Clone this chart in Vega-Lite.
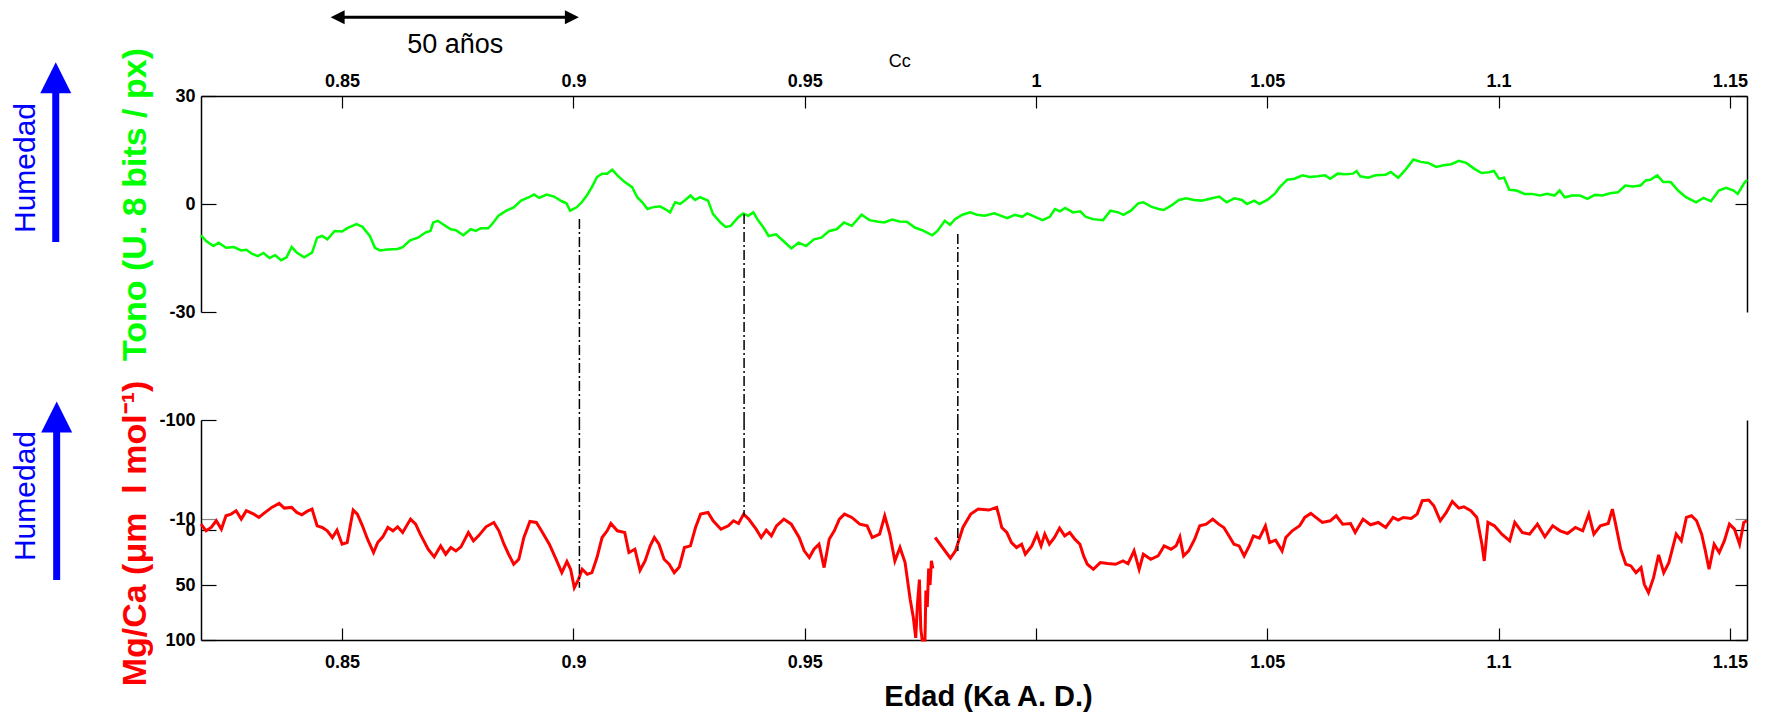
{
"$schema": "https://vega.github.io/schema/vega-lite/v6.json",
"background": "white",
"padding": {"left": 10, "top": 10, "right": 19, "bottom": 5},
"bounds": "flush",
"spacing": 108,
"config": {
  "view": {"stroke": null},
  "font": "Liberation Sans",
  "axis": {"grid": false, "labelFont": "Liberation Sans", "labelFontWeight": "bold", "labelFontSize": 18, "labelColor": "black", "domainColor": "black", "domainWidth": 1.5, "tickColor": "black", "tickWidth": 1.2, "titleFont": "Liberation Sans"}
},
"vconcat": [
{
  "width": 1546, "height": 216,
  "resolve": {"axis": {"x": "independent", "y": "independent"}},
  "layer": [
    {
      "data": {"values": [
{"edad":0.8195,"tono":-8.69},{"edad":0.8206,"tono":-10.28},{"edad":0.8222,"tono":-11.68},{"edad":0.8233,"tono":-10.75},{"edad":0.8249,"tono":-12.15},{"edad":0.8266,"tono":-11.96},{"edad":0.8282,"tono":-12.9},{"edad":0.8293,"tono":-12.71},{"edad":0.8305,"tono":-13.8},{"edad":0.8318,"tono":-14.5},{"edad":0.833,"tono":-13.6},{"edad":0.8343,"tono":-15.0},{"edad":0.8355,"tono":-14.2},{"edad":0.8368,"tono":-15.6},{"edad":0.838,"tono":-14.8},{"edad":0.8391,"tono":-11.96},{"edad":0.8402,"tono":-13.5},{"edad":0.8418,"tono":-14.8},{"edad":0.8435,"tono":-13.5},{"edad":0.8446,"tono":-9.35},{"edad":0.8457,"tono":-8.88},{"edad":0.8468,"tono":-9.81},{"edad":0.8484,"tono":-7.48},{"edad":0.85,"tono":-7.66},{"edad":0.8511,"tono":-6.73},{"edad":0.8531,"tono":-5.61},{"edad":0.8544,"tono":-6.35},{"edad":0.856,"tono":-8.88},{"edad":0.8571,"tono":-12.15},{"edad":0.8582,"tono":-12.9},{"edad":0.8598,"tono":-12.62},{"edad":0.862,"tono":-12.5},{"edad":0.8631,"tono":-11.96},{"edad":0.8647,"tono":-10.09},{"edad":0.8664,"tono":-9.35},{"edad":0.868,"tono":-7.94},{"edad":0.8691,"tono":-7.48},{"edad":0.8697,"tono":-5.14},{"edad":0.8707,"tono":-4.67},{"edad":0.8718,"tono":-5.61},{"edad":0.8735,"tono":-7.01},{"edad":0.8746,"tono":-7.29},{"edad":0.8762,"tono":-8.69},{"edad":0.8778,"tono":-7.01},{"edad":0.8789,"tono":-7.48},{"edad":0.88,"tono":-6.73},{"edad":0.8816,"tono":-6.73},{"edad":0.8827,"tono":-5.14},{"edad":0.8838,"tono":-3.27},{"edad":0.8855,"tono":-1.86},{"edad":0.8871,"tono":-0.93},{"edad":0.8887,"tono":0.94},{"edad":0.8904,"tono":1.88},{"edad":0.8915,"tono":2.63},{"edad":0.8926,"tono":1.69},{"edad":0.8942,"tono":2.63},{"edad":0.8958,"tono":2.07},{"edad":0.8975,"tono":0.76},{"edad":0.8985,"tono":0.19},{"edad":0.8993,"tono":-1.86},{"edad":0.9007,"tono":-0.93},{"edad":0.9018,"tono":0.48},{"edad":0.9029,"tono":2.35},{"edad":0.904,"tono":4.68},{"edad":0.9051,"tono":7.49},{"edad":0.9062,"tono":8.43},{"edad":0.9073,"tono":8.43},{"edad":0.9084,"tono":9.55},{"edad":0.9095,"tono":7.96},{"edad":0.9111,"tono":6.09},{"edad":0.9127,"tono":4.68},{"edad":0.9138,"tono":1.88},{"edad":0.9149,"tono":0.48},{"edad":0.916,"tono":-1.4},{"edad":0.9171,"tono":-0.93},{"edad":0.9187,"tono":-0.65},{"edad":0.9198,"tono":-1.4},{"edad":0.9209,"tono":-2.33},{"edad":0.922,"tono":0.48},{"edad":0.9231,"tono":0.01},{"edad":0.9242,"tono":1.13},{"edad":0.9253,"tono":2.35},{"edad":0.9263,"tono":1.13},{"edad":0.9274,"tono":1.88},{"edad":0.9291,"tono":0.94},{"edad":0.9302,"tono":-2.8},{"edad":0.9318,"tono":-5.14},{"edad":0.9329,"tono":-6.35},{"edad":0.934,"tono":-6.07},{"edad":0.9356,"tono":-3.73},{"edad":0.9367,"tono":-2.61},{"edad":0.9378,"tono":-3.27},{"edad":0.9389,"tono":-2.33},{"edad":0.94,"tono":-4.67},{"edad":0.9411,"tono":-6.54},{"edad":0.9422,"tono":-8.88},{"edad":0.9438,"tono":-8.41},{"edad":0.9454,"tono":-10.28},{"edad":0.9471,"tono":-12.34},{"edad":0.9487,"tono":-10.75},{"edad":0.9503,"tono":-11.68},{"edad":0.952,"tono":-9.81},{"edad":0.9536,"tono":-9.35},{"edad":0.9553,"tono":-7.48},{"edad":0.9569,"tono":-7.01},{"edad":0.9585,"tono":-5.14},{"edad":0.9602,"tono":-6.07},{"edad":0.9623,"tono":-2.99},{"edad":0.964,"tono":-4.48},{"edad":0.9656,"tono":-4.86},{"edad":0.9672,"tono":-5.14},{"edad":0.9689,"tono":-4.3},{"edad":0.9705,"tono":-4.86},{"edad":0.9721,"tono":-4.95},{"edad":0.9738,"tono":-6.54},{"edad":0.9754,"tono":-7.29},{"edad":0.9776,"tono":-8.69},{"edad":0.9787,"tono":-7.48},{"edad":0.9803,"tono":-4.67},{"edad":0.9814,"tono":-5.79},{"edad":0.9825,"tono":-4.2},{"edad":0.9841,"tono":-2.99},{"edad":0.9858,"tono":-2.33},
{"edad":0.9872,"tono":-2.99},{"edad":0.9889,"tono":-3.27},{"edad":0.991,"tono":-2.61},{"edad":0.9938,"tono":-3.92},{"edad":0.9954,"tono":-2.99},{"edad":0.997,"tono":-3.55},{"edad":0.9981,"tono":-2.61},{"edad":0.9998,"tono":-3.55},{"edad":1.0014,"tono":-4.48},{"edad":1.003,"tono":-3.55},{"edad":1.0041,"tono":-1.4},{"edad":1.0052,"tono":-2.05},{"edad":1.0063,"tono":-1.11},{"edad":1.008,"tono":-2.33},{"edad":1.0096,"tono":-2.05},{"edad":1.0107,"tono":-3.55},{"edad":1.0123,"tono":-4.2},{"edad":1.0145,"tono":-4.48},{"edad":1.0161,"tono":-1.86},{"edad":1.0178,"tono":-2.33},{"edad":1.0189,"tono":-2.99},{"edad":1.0205,"tono":-1.86},{"edad":1.0221,"tono":0.19},{"edad":1.0232,"tono":0.48},{"edad":1.0249,"tono":-0.74},{"edad":1.0265,"tono":-1.4},{"edad":1.0276,"tono":-1.68},{"edad":1.0292,"tono":-0.46},{"edad":1.0309,"tono":1.13},{"edad":1.0325,"tono":1.59},{"edad":1.0341,"tono":1.13},{"edad":1.0358,"tono":0.94},{"edad":1.0374,"tono":1.41},{"edad":1.0396,"tono":2.07},{"edad":1.0412,"tono":0.48},{"edad":1.0429,"tono":1.59},{"edad":1.0445,"tono":1.13},{"edad":1.0456,"tono":0.01},{"edad":1.0472,"tono":0.94},{"edad":1.0483,"tono":0.01},{"edad":1.05,"tono":1.13},{"edad":1.0516,"tono":2.81},{"edad":1.0527,"tono":4.68},{"edad":1.0543,"tono":6.74},{"edad":1.0559,"tono":7.02},{"edad":1.0576,"tono":7.96},{"edad":1.0592,"tono":7.49},{"edad":1.0609,"tono":7.68},{"edad":1.0625,"tono":7.96},{"edad":1.0636,"tono":7.02},{"edad":1.0652,"tono":8.43},{"edad":1.0669,"tono":8.24},{"edad":1.0685,"tono":8.43},{"edad":1.0693,"tono":9.17},{"edad":1.0701,"tono":7.68},{"edad":1.0718,"tono":7.3},{"edad":1.0734,"tono":7.96},{"edad":1.0756,"tono":8.14},{"edad":1.0767,"tono":8.89},{"edad":1.0783,"tono":7.3},{"edad":1.0799,"tono":9.55},{"edad":1.0816,"tono":12.35},{"edad":1.0832,"tono":11.7},{"edad":1.0848,"tono":11.42},{"edad":1.0865,"tono":10.3},{"edad":1.0881,"tono":10.76},{"edad":1.0898,"tono":11.04},{"edad":1.0914,"tono":11.98},{"edad":1.093,"tono":11.42},{"edad":1.0947,"tono":9.83},{"edad":1.0963,"tono":8.61},{"edad":1.0979,"tono":8.8},{"edad":1.099,"tono":9.17},{"edad":1.1001,"tono":7.02},{"edad":1.1012,"tono":7.3},{"edad":1.1023,"tono":3.94},{"edad":1.1039,"tono":3.75},{"edad":1.1056,"tono":2.81},{"edad":1.1072,"tono":2.81},{"edad":1.1089,"tono":2.35},{"edad":1.1105,"tono":2.81},{"edad":1.1121,"tono":2.35},{"edad":1.1132,"tono":3.75},{"edad":1.1143,"tono":1.88},{"edad":1.1159,"tono":2.35},{"edad":1.1176,"tono":2.35},{"edad":1.1192,"tono":1.41},{"edad":1.1208,"tono":2.53},{"edad":1.1225,"tono":2.35},{"edad":1.1241,"tono":3.0},{"edad":1.1258,"tono":3.28},{"edad":1.1274,"tono":5.15},{"edad":1.129,"tono":4.87},{"edad":1.1307,"tono":5.15},{"edad":1.1318,"tono":6.55},{"edad":1.1328,"tono":6.74},{"edad":1.1343,"tono":7.96},{"edad":1.1356,"tono":6.09},{"edad":1.1372,"tono":6.09},{"edad":1.1388,"tono":3.75},{"edad":1.1405,"tono":1.88},{"edad":1.1427,"tono":0.48},{"edad":1.1443,"tono":1.69},{"edad":1.1459,"tono":0.76},{"edad":1.1476,"tono":3.75},{"edad":1.1492,"tono":4.5},{"edad":1.1508,"tono":3.75},{"edad":1.1517,"tono":2.81},{"edad":1.153,"tono":5.62},{"edad":1.1537,"tono":6.74}
      ]},
      "mark": {"type": "line", "color": "#00ff00", "strokeWidth": 2.5},
      "encoding": {
        "x": {"field": "edad", "type": "quantitative", "scale": {"domain": [0.8195, 1.1537], "nice": false, "zero": false},
              "axis": {"orient": "top", "values": [0.85, 0.9, 0.95, 1, 1.05, 1.1, 1.15], "format": "~g", "title": null, "tickSize": -12, "labelPadding": 18, "labelFlush": false}},
        "y": {"field": "tono", "type": "quantitative", "scale": {"domain": [-30, 30], "nice": false, "zero": false},
              "axis": {"orient": "left", "values": [-30, 0, 30], "labelExpr": "replace(datum.label, '−', '-')", "tickSize": -15, "labelPadding": 21, "title": "Tono (U. 8 bits / px)", "titleColor": "#00ff00", "titleFontSize": 34, "titleFontWeight": "bold", "titleAngle": 270, "titleX": -66, "titleY": 108, "titleAlign": "center", "titleBaseline": "middle"}}
      }
    },
    {
      "data": {"values": [{"edad": 0.9013, "y0": -4.2, "y1": -60}, {"edad": 0.9369, "y0": -2.8, "y1": -60}, {"edad": 0.9831, "y0": -8.3, "y1": -60}]},
      "mark": {"type": "rule", "color": "black", "strokeWidth": 1.5, "strokeDash": [10, 3, 2, 3]},
      "encoding": {
        "x": {"field": "edad", "type": "quantitative", "scale": {"domain": [0.8195, 1.1537], "nice": false, "zero": false}, "axis": null},
        "y": {"field": "y0", "type": "quantitative", "scale": {"domain": [-30, 30], "nice": false, "zero": false},
              "axis": {"orient": "right", "values": [0, 30], "labels": false, "tickSize": -12, "title": null}},
        "y2": {"field": "y1"}
      }
    },
    {
      "data": {"values": [{"edad": 0.7881, "y0": -10.56, "y1": 31.1}]},
      "mark": {"type": "rule", "color": "#0000ff", "strokeWidth": 7},
      "encoding": {
        "x": {"field": "edad", "type": "quantitative", "axis": null},
        "y": {"field": "y0", "type": "quantitative", "axis": null},
        "y2": {"field": "y1"}
      }
    },
    {
      "data": {"values": [{"edad": 0.7881, "y": 35.1}]},
      "mark": {"type": "point", "shape": "M0,-1L-1,1L1,1Z", "filled": true, "opacity": 1, "size": 961, "color": "#0000ff"},
      "encoding": {
        "x": {"field": "edad", "type": "quantitative", "axis": null},
        "y": {"field": "y", "type": "quantitative", "axis": null}
      }
    },
    {
      "data": {"values": [{"edad": 0.7816, "y": 10, "label": "Humedad"}]},
      "mark": {"type": "text", "angle": 270, "align": "center", "baseline": "middle", "fontSize": 30, "color": "#0000ff", "font": "Liberation Sans"},
      "encoding": {
        "x": {"field": "edad", "type": "quantitative", "axis": null},
        "y": {"field": "y", "type": "quantitative", "axis": null},
        "text": {"field": "label"}
      }
    },
    {
      "data": {"values": [{"e0": 0.8495, "e1": 0.8995, "y": 51.9}]},
      "mark": {"type": "rule", "color": "black", "strokeWidth": 3},
      "encoding": {
        "x": {"field": "e0", "type": "quantitative", "axis": null},
        "x2": {"field": "e1"},
        "y": {"field": "y", "type": "quantitative", "axis": null}
      }
    },
    {
      "data": {"values": [{"edad": 0.84903, "y": 51.9}]},
      "mark": {"type": "point", "shape": "M-1,0L1,-1L1,1Z", "filled": true, "opacity": 1, "size": 196, "color": "black"},
      "encoding": {
        "x": {"field": "edad", "type": "quantitative", "axis": null},
        "y": {"field": "y", "type": "quantitative", "axis": null}
      }
    },
    {
      "data": {"values": [{"edad": 0.89967, "y": 51.9}]},
      "mark": {"type": "point", "shape": "M1,0L-1,-1L-1,1Z", "filled": true, "opacity": 1, "size": 196, "color": "black"},
      "encoding": {
        "x": {"field": "edad", "type": "quantitative", "axis": null},
        "y": {"field": "y", "type": "quantitative", "axis": null}
      }
    },
    {
      "data": {"values": [{"edad": 0.87446, "y": 44.2, "label": "50 años", "fs": 27}, {"edad": 0.97056, "y": 39.4, "label": "Cc", "fs": 18}]},
      "mark": {"type": "text", "align": "center", "baseline": "middle", "color": "black", "font": "Liberation Sans"},
      "encoding": {
        "x": {"field": "edad", "type": "quantitative", "axis": null},
        "y": {"field": "y", "type": "quantitative", "axis": null},
        "text": {"field": "label"},
        "size": {"field": "fs", "type": "quantitative", "scale": null, "legend": null}
      }
    }
  ]
},
{
  "width": 1546, "height": 220,
  "resolve": {"axis": {"x": "independent", "y": "independent"}},
  "layer": [
    {
      "data": {"values": [
{"edad":0.8195,"mgca":-5.33,"seg":"a"},{"edad":0.8206,"mgca":0.75,"seg":"a"},{"edad":0.8217,"mgca":-2.29,"seg":"a"},{"edad":0.8228,"mgca":-8.38,"seg":"a"},{"edad":0.8239,"mgca":-0.77,"seg":"a"},{"edad":0.8249,"mgca":-12.94,"seg":"a"},{"edad":0.826,"mgca":-14.46,"seg":"a"},{"edad":0.8271,"mgca":-17.5,"seg":"a"},{"edad":0.8282,"mgca":-9.9,"seg":"a"},{"edad":0.8293,"mgca":-17.5,"seg":"a"},{"edad":0.8309,"mgca":-14.46,"seg":"a"},{"edad":0.832,"mgca":-11.42,"seg":"a"},{"edad":0.8331,"mgca":-15.06,"seg":"a"},{"edad":0.8348,"mgca":-20.54,"seg":"a"},{"edad":0.8364,"mgca":-24.19,"seg":"a"},{"edad":0.8375,"mgca":-19.93,"seg":"a"},{"edad":0.8391,"mgca":-20.54,"seg":"a"},{"edad":0.8402,"mgca":-15.98,"seg":"a"},{"edad":0.8413,"mgca":-13.85,"seg":"a"},{"edad":0.8424,"mgca":-16.89,"seg":"a"},{"edad":0.8435,"mgca":-19.02,"seg":"a"},{"edad":0.8446,"mgca":-3.81,"seg":"a"},{"edad":0.8457,"mgca":-2.29,"seg":"a"},{"edad":0.8468,"mgca":0.75,"seg":"a"},{"edad":0.8479,"mgca":6.83,"seg":"a"},{"edad":0.8489,"mgca":0.14,"seg":"a"},{"edad":0.85,"mgca":12.91,"seg":"a"},{"edad":0.8511,"mgca":11.39,"seg":"a"},{"edad":0.8524,"mgca":-18.11,"seg":"a"},{"edad":0.8533,"mgca":-14.46,"seg":"a"},{"edad":0.8544,"mgca":-3.81,"seg":"a"},{"edad":0.8555,"mgca":8.35,"seg":"a"},{"edad":0.8568,"mgca":20.51,"seg":"a"},{"edad":0.8577,"mgca":11.39,"seg":"a"},{"edad":0.8588,"mgca":6.22,"seg":"a"},{"edad":0.8599,"mgca":-2.29,"seg":"a"},{"edad":0.861,"mgca":0.75,"seg":"a"},{"edad":0.862,"mgca":-2.9,"seg":"a"},{"edad":0.8631,"mgca":2.27,"seg":"a"},{"edad":0.8648,"mgca":-9.9,"seg":"a"},{"edad":0.8659,"mgca":-5.33,"seg":"a"},{"edad":0.8669,"mgca":3.79,"seg":"a"},{"edad":0.8686,"mgca":17.47,"seg":"a"},{"edad":0.8699,"mgca":24.46,"seg":"a"},{"edad":0.8713,"mgca":14.43,"seg":"a"},{"edad":0.8724,"mgca":22.03,"seg":"a"},{"edad":0.8735,"mgca":15.95,"seg":"a"},{"edad":0.8746,"mgca":18.99,"seg":"a"},{"edad":0.8757,"mgca":15.34,"seg":"a"},{"edad":0.8773,"mgca":2.27,"seg":"a"},{"edad":0.8784,"mgca":9.87,"seg":"a"},{"edad":0.8795,"mgca":5.31,"seg":"a"},{"edad":0.8811,"mgca":-2.9,"seg":"a"},{"edad":0.8828,"mgca":-6.85,"seg":"a"},{"edad":0.8839,"mgca":0.75,"seg":"a"},{"edad":0.885,"mgca":12.91,"seg":"a"},{"edad":0.886,"mgca":22.03,"seg":"a"},{"edad":0.8871,"mgca":31.15,"seg":"a"},{"edad":0.8882,"mgca":26.59,"seg":"a"},{"edad":0.8893,"mgca":6.83,"seg":"a"},{"edad":0.8906,"mgca":-7.77,"seg":"a"},{"edad":0.892,"mgca":-6.85,"seg":"a"},{"edad":0.8931,"mgca":0.75,"seg":"a"},{"edad":0.8948,"mgca":12.91,"seg":"a"},{"edad":0.8961,"mgca":25.07,"seg":"a"},{"edad":0.8975,"mgca":38.75,"seg":"a"},{"edad":0.8986,"mgca":28.72,"seg":"a"},{"edad":0.8994,"mgca":35.71,"seg":"a"},{"edad":0.9002,"mgca":52.43,"seg":"a"},{"edad":0.9011,"mgca":44.83,"seg":"a"},{"edad":0.9019,"mgca":35.71,"seg":"a"},{"edad":0.903,"mgca":40.27,"seg":"a"},{"edad":0.904,"mgca":38.75,"seg":"a"},{"edad":0.9051,"mgca":25.07,"seg":"a"},{"edad":0.9062,"mgca":6.83,"seg":"a"},{"edad":0.9073,"mgca":0.75,"seg":"a"},{"edad":0.9081,"mgca":-5.94,"seg":"a"},{"edad":0.9095,"mgca":0.75,"seg":"a"},{"edad":0.9111,"mgca":2.27,"seg":"a"},{"edad":0.912,"mgca":20.51,"seg":"a"},{"edad":0.9133,"mgca":17.47,"seg":"a"},{"edad":0.9144,"mgca":36.62,"seg":"a"},{"edad":0.9155,"mgca":28.11,"seg":"a"},{"edad":0.9166,"mgca":14.43,"seg":"a"},{"edad":0.9175,"mgca":6.83,"seg":"a"},{"edad":0.9185,"mgca":12.91,"seg":"a"},{"edad":0.9196,"mgca":26.59,"seg":"a"},{"edad":0.9207,"mgca":31.15,"seg":"a"},{"edad":0.9218,"mgca":38.75,"seg":"a"},{"edad":0.9229,"mgca":33.58,"seg":"a"},{"edad":0.924,"mgca":15.95,"seg":"a"},{"edad":0.9253,"mgca":14.43,"seg":"a"},{"edad":0.9264,"mgca":-2.29,"seg":"a"},{"edad":0.9275,"mgca":-14.46,"seg":"a"},{"edad":0.9291,"mgca":-15.98,"seg":"a"},{"edad":0.9302,"mgca":-8.38,"seg":"a"},{"edad":0.9319,"mgca":-0.77,"seg":"a"},{"edad":0.9335,"mgca":-3.81,"seg":"a"},{"edad":0.9346,"mgca":-8.38,"seg":"a"},{"edad":0.9357,"mgca":-5.94,"seg":"a"},{"edad":0.9368,"mgca":-14.46,"seg":"a"},{"edad":0.9379,"mgca":-9.9,"seg":"a"},{"edad":0.9395,"mgca":-0.77,"seg":"a"},{"edad":0.9406,"mgca":6.83,"seg":"a"},{"edad":0.9417,"mgca":0.14,"seg":"a"},{"edad":0.9428,"mgca":5.31,"seg":"a"},{"edad":0.9439,"mgca":-3.81,"seg":"a"},{"edad":0.9455,"mgca":-9.9,"seg":"a"},{"edad":0.9471,"mgca":-5.33,"seg":"a"},{"edad":0.9488,"mgca":6.83,"seg":"a"},{"edad":0.9499,"mgca":18.99,"seg":"a"},{"edad":0.951,"mgca":25.07,"seg":"a"},{"edad":0.952,"mgca":17.47,"seg":"a"},{"edad":0.9531,"mgca":12.91,"seg":"a"},{"edad":0.9542,"mgca":34.19,"seg":"a"},{"edad":0.9553,"mgca":8.35,"seg":"a"},{"edad":0.9564,"mgca":0.75,"seg":"a"},{"edad":0.9575,"mgca":-9.9,"seg":"a"},{"edad":0.9586,"mgca":-14.46,"seg":"a"},{"edad":0.9602,"mgca":-11.42,"seg":"a"},{"edad":0.9619,"mgca":-5.33,"seg":"a"},{"edad":0.9635,"mgca":-3.81,"seg":"a"},{"edad":0.9646,"mgca":6.83,"seg":"a"},{"edad":0.9662,"mgca":3.79,"seg":"a"},{"edad":0.9673,"mgca":-12.94,"seg":"a"},{"edad":0.9684,"mgca":3.79,"seg":"a"},{"edad":0.9695,"mgca":28.11,"seg":"a"},{"edad":0.9706,"mgca":15.95,"seg":"a"},{"edad":0.9717,"mgca":29.63,"seg":"a"},{"edad":0.9728,"mgca":63.0,"seg":"a"},{"edad":0.9735,"mgca":80.0,"seg":"a"},{"edad":0.974,"mgca":98.0,"seg":"a"},{"edad":0.9744,"mgca":66.0,"seg":"a"},{"edad":0.9748,"mgca":45.0,"seg":"a"},{"edad":0.9751,"mgca":90.0,"seg":"a"},{"edad":0.9754,"mgca":100.0,"seg":"a"},{"edad":0.976,"mgca":100.0,"seg":"a"},{"edad":0.9762,"mgca":55.0,"seg":"a"},{"edad":0.9765,"mgca":70.0,"seg":"a"},{"edad":0.9768,"mgca":35.0,"seg":"a"},{"edad":0.9771,"mgca":50.0,"seg":"a"},{"edad":0.9774,"mgca":28.0,"seg":"a"},{"edad":0.9777,"mgca":35.0,"seg":"a"},
{"edad":0.9782,"mgca":6.83,"seg":"b"},{"edad":0.9815,"mgca":25.68,"seg":"b"},{"edad":0.9826,"mgca":18.99,"seg":"b"},{"edad":0.9842,"mgca":-2.29,"seg":"b"},{"edad":0.9859,"mgca":-14.46,"seg":"b"},{"edad":0.9875,"mgca":-19.02,"seg":"b"},{"edad":0.9898,"mgca":-18.11,"seg":"b"},{"edad":0.9915,"mgca":-20.54,"seg":"b"},{"edad":0.992,"mgca":-12.94,"seg":"b"},{"edad":0.9926,"mgca":-2.29,"seg":"b"},{"edad":0.9937,"mgca":2.27,"seg":"b"},{"edad":0.9947,"mgca":11.39,"seg":"b"},{"edad":0.9958,"mgca":15.95,"seg":"b"},{"edad":0.9969,"mgca":12.91,"seg":"b"},{"edad":0.9977,"mgca":22.03,"seg":"b"},{"edad":0.9991,"mgca":14.43,"seg":"b"},{"edad":1.0002,"mgca":3.79,"seg":"b"},{"edad":1.0011,"mgca":14.43,"seg":"b"},{"edad":1.0019,"mgca":3.79,"seg":"b"},{"edad":1.0029,"mgca":12.91,"seg":"b"},{"edad":1.004,"mgca":6.83,"seg":"b"},{"edad":1.0051,"mgca":-1.69,"seg":"b"},{"edad":1.0062,"mgca":5.31,"seg":"b"},{"edad":1.0073,"mgca":2.27,"seg":"b"},{"edad":1.0084,"mgca":8.35,"seg":"b"},{"edad":1.0095,"mgca":12.91,"seg":"b"},{"edad":1.0103,"mgca":23.55,"seg":"b"},{"edad":1.0111,"mgca":31.15,"seg":"b"},{"edad":1.0124,"mgca":35.71,"seg":"b"},{"edad":1.0139,"mgca":29.63,"seg":"b"},{"edad":1.0155,"mgca":30.54,"seg":"b"},{"edad":1.0172,"mgca":31.15,"seg":"b"},{"edad":1.0188,"mgca":28.11,"seg":"b"},{"edad":1.0199,"mgca":30.54,"seg":"b"},{"edad":1.0212,"mgca":18.99,"seg":"b"},{"edad":1.0223,"mgca":35.71,"seg":"b"},{"edad":1.0232,"mgca":22.03,"seg":"b"},{"edad":1.0248,"mgca":26.59,"seg":"b"},{"edad":1.0264,"mgca":23.55,"seg":"b"},{"edad":1.0277,"mgca":14.43,"seg":"b"},{"edad":1.0292,"mgca":17.47,"seg":"b"},{"edad":1.0303,"mgca":14.43,"seg":"b"},{"edad":1.0311,"mgca":6.22,"seg":"b"},{"edad":1.0319,"mgca":23.55,"seg":"b"},{"edad":1.033,"mgca":18.99,"seg":"b"},{"edad":1.0343,"mgca":8.35,"seg":"b"},{"edad":1.0354,"mgca":-3.81,"seg":"b"},{"edad":1.0368,"mgca":-5.33,"seg":"b"},{"edad":1.0382,"mgca":-9.9,"seg":"b"},{"edad":1.0395,"mgca":-5.33,"seg":"b"},{"edad":1.0406,"mgca":-2.29,"seg":"b"},{"edad":1.0417,"mgca":5.31,"seg":"b"},{"edad":1.0428,"mgca":12.91,"seg":"b"},{"edad":1.0439,"mgca":14.43,"seg":"b"},{"edad":1.045,"mgca":23.55,"seg":"b"},{"edad":1.0461,"mgca":14.43,"seg":"b"},{"edad":1.047,"mgca":5.31,"seg":"b"},{"edad":1.0483,"mgca":7.43,"seg":"b"},{"edad":1.0496,"mgca":-3.81,"seg":"b"},{"edad":1.0505,"mgca":11.39,"seg":"b"},{"edad":1.0518,"mgca":9.26,"seg":"b"},{"edad":1.0532,"mgca":18.99,"seg":"b"},{"edad":1.054,"mgca":6.83,"seg":"b"},{"edad":1.0554,"mgca":0.75,"seg":"b"},{"edad":1.057,"mgca":-3.81,"seg":"b"},{"edad":1.0581,"mgca":-11.42,"seg":"b"},{"edad":1.0594,"mgca":-15.06,"seg":"b"},{"edad":1.0605,"mgca":-11.42,"seg":"b"},{"edad":1.0619,"mgca":-6.85,"seg":"b"},{"edad":1.0636,"mgca":-8.38,"seg":"b"},{"edad":1.0649,"mgca":-12.94,"seg":"b"},{"edad":1.0663,"mgca":-5.33,"seg":"b"},{"edad":1.068,"mgca":-5.94,"seg":"b"},{"edad":1.069,"mgca":2.27,"seg":"b"},{"edad":1.0707,"mgca":-9.9,"seg":"b"},{"edad":1.0723,"mgca":-4.73,"seg":"b"},{"edad":1.074,"mgca":-6.85,"seg":"b"},{"edad":1.0756,"mgca":-2.29,"seg":"b"},{"edad":1.0772,"mgca":-11.42,"seg":"b"},{"edad":1.0783,"mgca":-8.98,"seg":"b"},{"edad":1.0794,"mgca":-11.42,"seg":"b"},{"edad":1.0811,"mgca":-10.5,"seg":"b"},{"edad":1.0824,"mgca":-14.46,"seg":"b"},{"edad":1.0835,"mgca":-26.62,"seg":"b"},{"edad":1.0849,"mgca":-27.23,"seg":"b"},{"edad":1.086,"mgca":-22.06,"seg":"b"},{"edad":1.0874,"mgca":-8.38,"seg":"b"},{"edad":1.0887,"mgca":-15.98,"seg":"b"},{"edad":1.09,"mgca":-26.01,"seg":"b"},{"edad":1.0914,"mgca":-19.93,"seg":"b"},{"edad":1.0925,"mgca":-21.15,"seg":"b"},{"edad":1.094,"mgca":-17.5,"seg":"b"},{"edad":1.0953,"mgca":-11.42,"seg":"b"},{"edad":1.0964,"mgca":12.91,"seg":"b"},{"edad":1.0969,"mgca":28.11,"seg":"b"},{"edad":1.0977,"mgca":-6.85,"seg":"b"},{"edad":1.0991,"mgca":-3.81,"seg":"b"},{"edad":1.1007,"mgca":3.79,"seg":"b"},{"edad":1.1024,"mgca":9.87,"seg":"b"},{"edad":1.1035,"mgca":-6.85,"seg":"b"},{"edad":1.1051,"mgca":2.27,"seg":"b"},{"edad":1.1067,"mgca":3.79,"seg":"b"},{"edad":1.1084,"mgca":-5.33,"seg":"b"},{"edad":1.11,"mgca":6.22,"seg":"b"},{"edad":1.1117,"mgca":-3.81,"seg":"b"},{"edad":1.1133,"mgca":0.75,"seg":"b"},{"edad":1.1149,"mgca":3.18,"seg":"b"},{"edad":1.1166,"mgca":-2.29,"seg":"b"},{"edad":1.1182,"mgca":0.75,"seg":"b"},{"edad":1.1195,"mgca":-14.46,"seg":"b"},{"edad":1.1206,"mgca":3.79,"seg":"b"},{"edad":1.122,"mgca":-3.81,"seg":"b"},{"edad":1.1237,"mgca":-5.94,"seg":"b"},{"edad":1.1246,"mgca":-19.02,"seg":"b"},{"edad":1.1253,"mgca":-5.33,"seg":"b"},{"edad":1.1264,"mgca":17.47,"seg":"b"},{"edad":1.1275,"mgca":31.15,"seg":"b"},{"edad":1.1286,"mgca":32.67,"seg":"b"},{"edad":1.1297,"mgca":38.75,"seg":"b"},{"edad":1.1308,"mgca":34.19,"seg":"b"},{"edad":1.1315,"mgca":49.39,"seg":"b"},{"edad":1.1324,"mgca":56.99,"seg":"b"},{"edad":1.1335,"mgca":43.31,"seg":"b"},{"edad":1.1346,"mgca":22.64,"seg":"b"},{"edad":1.1357,"mgca":38.75,"seg":"b"},{"edad":1.1368,"mgca":29.63,"seg":"b"},{"edad":1.1384,"mgca":3.79,"seg":"b"},{"edad":1.1395,"mgca":9.87,"seg":"b"},{"edad":1.1406,"mgca":-11.42,"seg":"b"},{"edad":1.1417,"mgca":-12.94,"seg":"b"},{"edad":1.1428,"mgca":-8.38,"seg":"b"},{"edad":1.1439,"mgca":3.79,"seg":"b"},{"edad":1.1447,"mgca":18.99,"seg":"b"},{"edad":1.1455,"mgca":35.71,"seg":"b"},{"edad":1.1466,"mgca":12.91,"seg":"b"},{"edad":1.1477,"mgca":20.51,"seg":"b"},{"edad":1.1488,"mgca":9.87,"seg":"b"},{"edad":1.1499,"mgca":-5.33,"seg":"b"},{"edad":1.151,"mgca":-0.77,"seg":"b"},{"edad":1.1521,"mgca":12.91,"seg":"b"},{"edad":1.153,"mgca":-6.85,"seg":"b"},{"edad":1.1537,"mgca":-8.38,"seg":"b"}
      ]},
      "mark": {"type": "line", "color": "#ff0000", "strokeWidth": 3},
      "encoding": {
        "x": {"field": "edad", "type": "quantitative", "scale": {"domain": [0.8195, 1.1537], "nice": false, "zero": false},
              "axis": {"orient": "bottom", "values": [0.85, 0.9, 0.95, 1, 1.05, 1.1, 1.15], "format": "~g", "labelExpr": "datum.value == 1 ? '' : datum.label", "tickSize": -12, "labelPadding": 25, "labelFlush": false,
                       "title": "Edad (Ka A. D.)", "titleFontSize": 29, "titleFontWeight": "bold", "titleColor": "black", "titleBaseline": "middle", "titleY": 56, "titleX": 787}},
        "y": {"field": "mgca", "type": "quantitative", "scale": {"domain": [-100, 100], "nice": false, "zero": false, "reverse": true},
              "axis": {"orient": "left", "values": [-100, -10, 0, 50, 100], "labelExpr": "replace(datum.label, '−', '-')", "labelOverlap": false, "tickSize": -15, "labelPadding": 21,
                       "tickColor": {"condition": {"test": "datum.value == -10", "value": "#888888"}, "value": "black"},
                       "title": "Mg/Ca (μm\u00a0 l mol⁻¹)", "titleColor": "#ff0000", "titleFontSize": 34, "titleFontWeight": "bold", "titleAngle": 270, "titleX": -66, "titleY": 113, "titleAlign": "center", "titleBaseline": "middle"}},
        "detail": {"field": "seg", "type": "nominal"}
      }
    },
    {
      "data": {"values": [{"edad": 0.9013, "y0": -100, "y1": 52.4}, {"edad": 0.9369, "y0": -100, "y1": -13}, {"edad": 0.9831, "y0": -100, "y1": 19}]},
      "mark": {"type": "rule", "color": "black", "strokeWidth": 1.5, "strokeDash": [10, 3, 2, 3]},
      "encoding": {
        "x": {"field": "edad", "type": "quantitative", "scale": {"domain": [0.8195, 1.1537], "nice": false, "zero": false}, "axis": null},
        "y": {"field": "y0", "type": "quantitative", "scale": {"domain": [-100, 100], "nice": false, "zero": false, "reverse": true},
              "axis": {"orient": "right", "values": [-10, 0, 50, 100], "labels": false, "tickSize": -12, "title": null,
                       "tickColor": {"condition": {"test": "datum.value == -10", "value": "#888888"}, "value": "black"}}},
        "y2": {"field": "y1"}
      }
    },
    {
      "data": {"values": [{"edad": 0.7883, "y0": 45.5, "y1": -89}]},
      "mark": {"type": "rule", "color": "#0000ff", "strokeWidth": 7},
      "encoding": {
        "x": {"field": "edad", "type": "quantitative", "axis": null},
        "y": {"field": "y0", "type": "quantitative", "axis": null},
        "y2": {"field": "y1"}
      }
    },
    {
      "data": {"values": [{"edad": 0.7883, "y": -102.7}]},
      "mark": {"type": "point", "shape": "M0,-1L-1,1L1,1Z", "filled": true, "opacity": 1, "size": 961, "color": "#0000ff"},
      "encoding": {
        "x": {"field": "edad", "type": "quantitative", "axis": null},
        "y": {"field": "y", "type": "quantitative", "axis": null}
      }
    },
    {
      "data": {"values": [{"edad": 0.7816, "y": -30.9, "label": "Humedad"}]},
      "mark": {"type": "text", "angle": 270, "align": "center", "baseline": "middle", "fontSize": 30, "color": "#0000ff", "font": "Liberation Sans"},
      "encoding": {
        "x": {"field": "edad", "type": "quantitative", "axis": null},
        "y": {"field": "y", "type": "quantitative", "axis": null},
        "text": {"field": "label"}
      }
    }
  ]
}
]
}
